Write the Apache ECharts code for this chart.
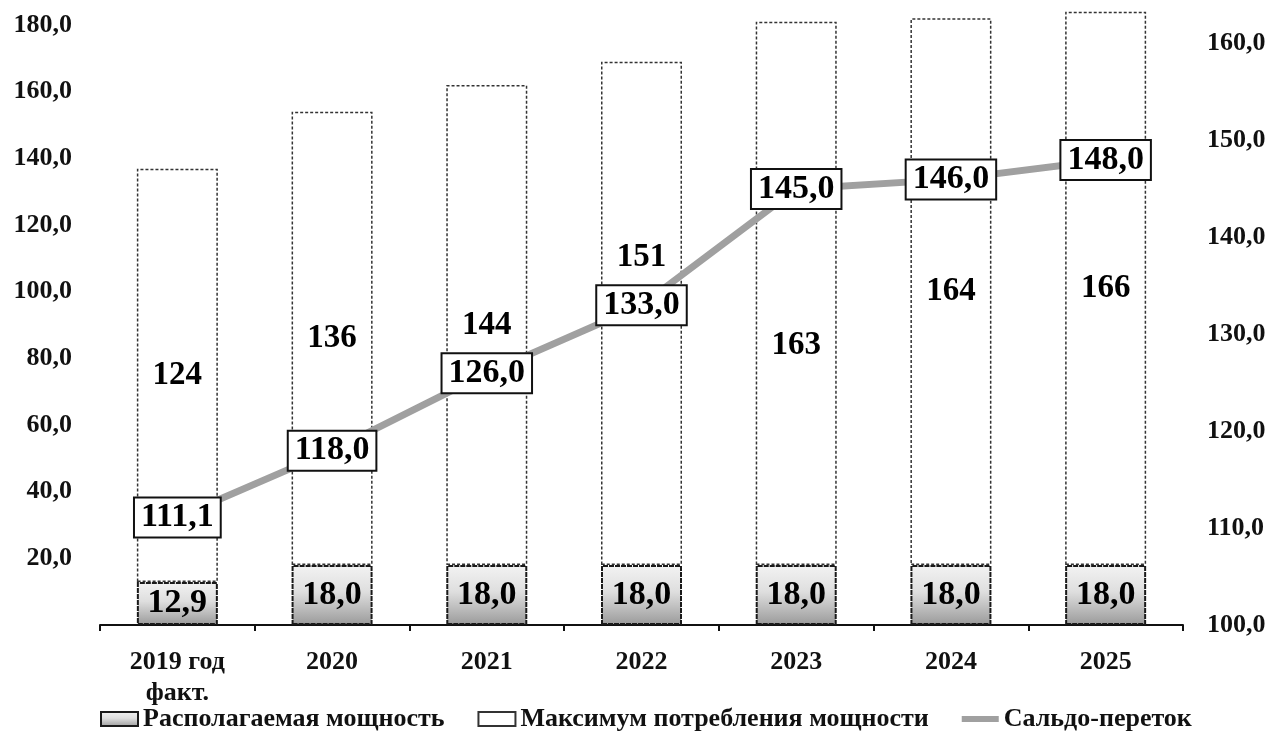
<!DOCTYPE html>
<html>
<head>
<meta charset="utf-8">
<script src="https://cdn.jsdelivr.net/npm/echarts@6/dist/echarts.min.js"></script>
<style>
  html, body { margin: 0; padding: 0; background: #fff; }
  #chart { width: 1271px; height: 752px; }
</style>
</head>
<body>
<div id="chart"></div>
<script>
// Categories and series values
const categories = ['2019 год\nфакт.', '2020', '2021', '2022', '2023', '2024', '2025'];
const availablePower = [12.9, 18.0, 18.0, 18.0, 18.0, 18.0, 18.0];
const peakDemand = [124, 136, 144, 151, 163, 164, 166];
const netFlow = [111.1, 118.0, 126.0, 133.0, 145.0, 146.0, 148.0];
const seriesNames = ['Располагаемая мощность', 'Максимум потребления мощности', 'Сальдо-переток'];

const FONT = '"Liberation Serif", "Times New Roman", serif';
const fmt1 = v => v.toFixed(1).replace('.', ',');

// Label nudges for the demand values that would collide with the flow line
const demandLabelOffset = { 3: [0, -56], 4: [0, 52] };

const chart = echarts.init(document.getElementById('chart'), null, { renderer: 'canvas' });

const option = {
  backgroundColor: '#fff',
  animation: false,
  grid: { left: 100, right: 88, top: 5, bottom: 127, containLabel: false },
  legend: {
    top: 706,
    left: 100,
    padding: 0,
    itemWidth: 37,
    itemHeight: 14,
    itemGap: 33,
    textStyle: { fontFamily: FONT, fontWeight: 'bold', fontSize: 26, color: '#111' },
    data: [
      { name: seriesNames[0], icon: 'rect' },
      { name: seriesNames[1], icon: 'rect' },
      {
        name: seriesNames[2],
        icon: 'path://M0,0 L44,0 L44,7 L0,7 Z',
        itemStyle: { color: '#a0a0a0', borderWidth: 0 }
      }
    ]
  },
  xAxis: {
    type: 'category',
    data: categories,
    axisLine: { show: true, lineStyle: { color: '#111', width: 2 } },
    axisTick: { show: true, length: 6, lineStyle: { color: '#111', width: 2 } },
    axisLabel: {
      fontFamily: FONT, fontWeight: 'bold', fontSize: 26, color: '#111',
      lineHeight: 31, margin: 22
    }
  },
  yAxis: [
    {
      type: 'value', min: 0, max: 186, interval: 20,
      axisLine: { show: false }, axisTick: { show: false }, splitLine: { show: false },
      axisLabel: {
        fontFamily: FONT, fontWeight: 'bold', fontSize: 26, color: '#111', margin: 28,
        padding: [8, 0, 0, 0],
        formatter: v => (v > 0 && v % 20 === 0) ? fmt1(v) : ''
      }
    },
    {
      type: 'value', min: 100, max: 164, interval: 10,
      axisLine: { show: false }, axisTick: { show: false }, splitLine: { show: false },
      axisLabel: {
        fontFamily: FONT, fontWeight: 'bold', fontSize: 26, color: '#111', margin: 24,
        formatter: v => (v % 10 === 0) ? fmt1(v) : ''
      }
    }
  ],
  series: [
    {
      name: seriesNames[0],
      type: 'bar',
      stack: 'power',
      barWidth: 81,
      data: availablePower,
      itemStyle: {
        color: new echarts.graphic.LinearGradient(0, 0, 0, 1, [
          { offset: 0, color: '#f3f3f3' },
          { offset: 0.45, color: '#dedede' },
          { offset: 1, color: '#9a9a9a' }
        ]),
        borderColor: '#1a1a1a',
        borderWidth: 2,
        borderType: [5, 1]
      },
      label: {
        show: true, position: 'inside',
        fontFamily: FONT, fontWeight: 'bold', fontSize: 34, color: '#000',
        formatter: p => fmt1(p.value)
      },
      z: 2
    },
    {
      name: seriesNames[1],
      type: 'bar',
      stack: 'power',
      barWidth: 81,
      data: peakDemand.map((v, i) => demandLabelOffset[i]
        ? { value: v, label: { offset: demandLabelOffset[i] } }
        : v),
      itemStyle: {
        color: '#ffffff',
        borderColor: '#333',
        borderWidth: 1.5,
        borderType: [3, 2]
      },
      label: {
        show: true, position: 'inside',
        fontFamily: FONT, fontWeight: 'bold', fontSize: 33, color: '#000',
        formatter: p => String(p.value)
      },
      z: 2
    },
    {
      name: seriesNames[2],
      type: 'line',
      yAxisIndex: 1,
      data: netFlow,
      symbol: 'circle',
      symbolSize: 2,
      lineStyle: { color: '#a0a0a0', width: 7 },
      itemStyle: { color: '#a0a0a0' },
      label: {
        show: true, position: 'inside',
        fontFamily: FONT, fontWeight: 'bold', fontSize: 34, color: '#000',
        backgroundColor: '#fff',
        borderColor: '#111', borderWidth: 2,
        padding: [3, 6, 1, 6],
        formatter: p => fmt1(p.value)
      },
      z: 5
    }
  ]
};

chart.setOption(option);
</script>
</body>
</html>
